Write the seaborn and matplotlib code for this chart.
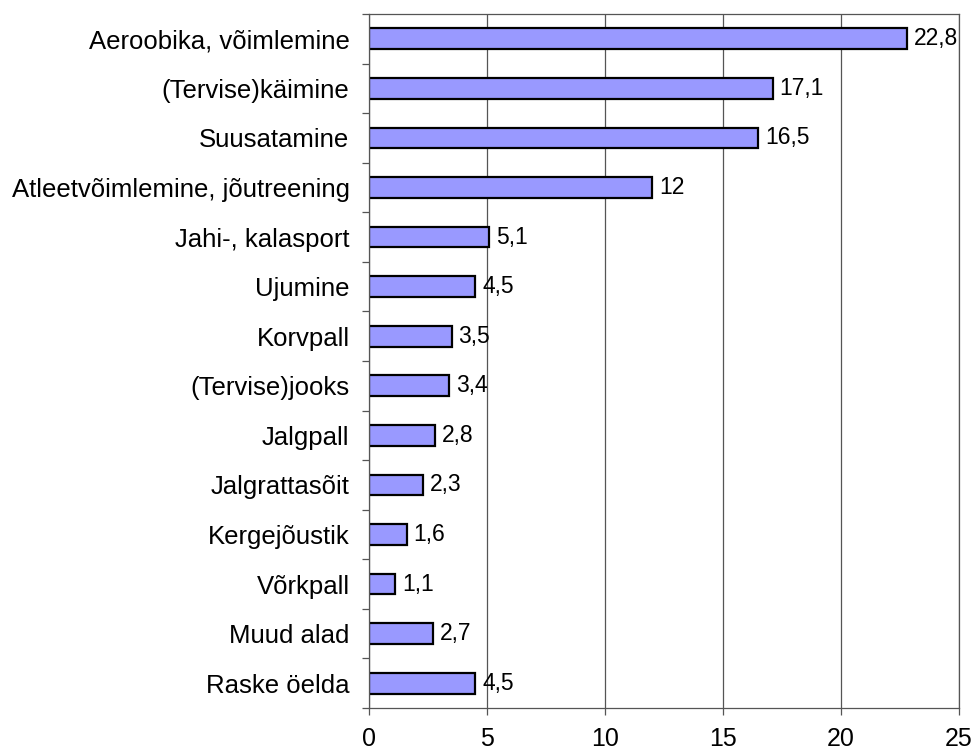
import matplotlib
matplotlib.use("Agg")
import matplotlib.pyplot as plt
import seaborn as sns
import pandas as pd
from matplotlib.ticker import MultipleLocator

categories = ["Aeroobika, võimlemine", "(Tervise)käimine", "Suusatamine",
              "Atleetvõimlemine, jõutreening", "Jahi-, kalasport", "Ujumine",
              "Korvpall", "(Tervise)jooks", "Jalgpall", "Jalgrattasõit",
              "Kergejõustik", "Võrkpall", "Muud alad", "Raske öelda"]
values = [22.8, 17.1, 16.5, 12, 5.1, 4.5, 3.5, 3.4, 2.8, 2.3, 1.6, 1.1, 2.7, 4.5]
value_labels = ["22,8", "17,1", "16,5", "12", "5,1", "4,5", "3,5", "3,4",
                "2,8", "2,3", "1,6", "1,1", "2,7", "4,5"]
x_ticks = [0, 5, 10, 15, 20, 25]

df = pd.DataFrame({"ala": categories, "osakaal": values})

sns.set_style("white")
plt.rcParams["font.family"] = ["Liberation Sans", "DejaVu Sans"]
plt.rcParams["text.color"] = "black"
plt.rcParams["xtick.color"] = "black"
plt.rcParams["ytick.color"] = "black"

fig = plt.figure(figsize=(9.74, 7.51), dpi=100)
ax = fig.add_axes([369 / 974, 1 - 708 / 751, (959 - 369) / 974, (708 - 14) / 751])

sns.barplot(data=df, x="osakaal", y="ala", orient="h", color="#9999FF",
            saturation=1, edgecolor="black", linewidth=1.6, width=0.42, ax=ax)

# value labels next to bars (comma decimals as in the original)
for i, (v, lab) in enumerate(zip(values, value_labels)):
    ax.annotate(lab, (v, i), xytext=(5, 0), textcoords="offset points",
                va="center", ha="left", fontsize=16.5, color="black")

grey = "#555555"
ax.set_xlim(0, 25)
ax.set_ylim(13.5, -0.5)
ax.set_xticks(x_ticks)
ax.set_xticklabels([str(t) for t in x_ticks], fontsize=18)
ax.xaxis.grid(True, color=grey, linewidth=0.9)
ax.set_axisbelow(True)
ax.tick_params(axis="x", direction="out", bottom=True, length=5, width=0.9,
               color=grey, pad=9)
ax.tick_params(axis="y", which="major", left=False, length=0, pad=14, labelsize=18.5)
ax.yaxis.set_minor_locator(MultipleLocator(1, offset=0.5))
ax.tick_params(axis="y", which="minor", left=True, direction="out", length=5,
               width=0.9, color=grey)
ax.set_xlabel("")
ax.set_ylabel("")
for s in ["top", "left", "bottom", "right"]:
    ax.spines[s].set_visible(True)
    ax.spines[s].set_color(grey)
    ax.spines[s].set_linewidth(0.9)

fig.savefig("out.png", dpi=100)
